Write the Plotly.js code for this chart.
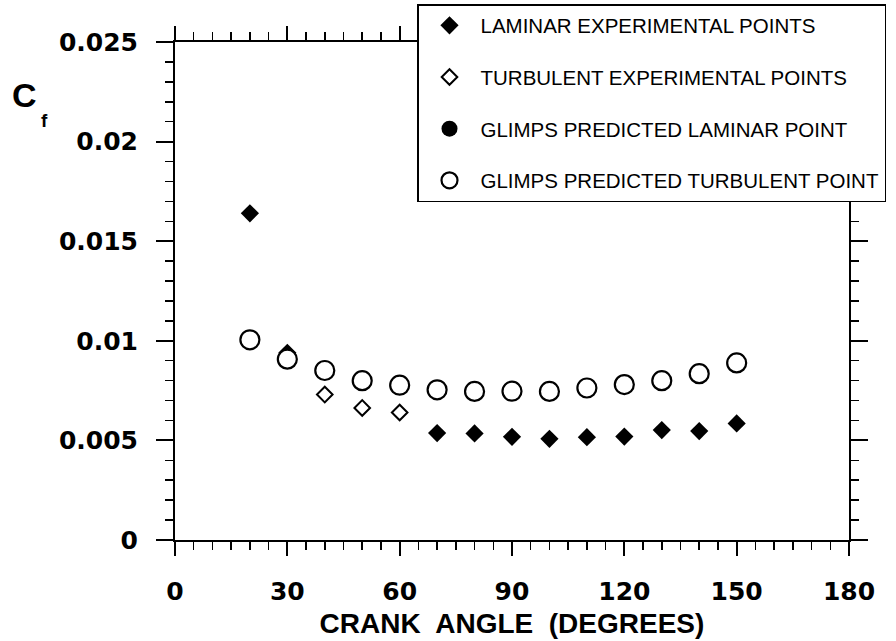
<!DOCTYPE html>
<html>
<head>
<meta charset="utf-8">
<script src="https://cdn.plot.ly/plotly-3.0.1.min.js"></script>
<style>html,body{margin:0;padding:0;background:#fff;}#chart{width:896px;height:641px;}</style>
</head>
<body>
<div id="chart"></div>
<script>
// Crank angle (degrees)
const lamExpAngle = [20, 30, 70, 80, 90, 100, 110, 120, 130, 140, 150];
const lamExpCf    = [0.0164, 0.0094, 0.00537, 0.00535, 0.00518, 0.00508, 0.00516, 0.00519, 0.00552, 0.00547, 0.00585];

const turbExpAngle = [40, 50, 60];
const turbExpCf    = [0.0073, 0.00663, 0.0064];

const glimpsLamAngle = [];
const glimpsLamCf    = [];

const glimpsTurbAngle = [20, 30, 40, 50, 60, 70, 80, 90, 100, 110, 120, 130, 140, 150];
const glimpsTurbCf    = [0.01005, 0.00908, 0.00851, 0.0080, 0.00777, 0.00754, 0.00746, 0.00747, 0.00746, 0.00763, 0.0078, 0.0080, 0.00835, 0.00889];

const seriesNames = [
  'LAMINAR EXPERIMENTAL POINTS',
  'TURBULENT EXPERIMENTAL POINTS',
  'GLIMPS PREDICTED LAMINAR POINT',
  'GLIMPS PREDICTED TURBULENT POINT'
];
const xTickVals = [0, 30, 60, 90, 120, 150, 180];
const yTickVals = [0, 0.005, 0.01, 0.015, 0.02, 0.025];
const yTickText = ['0', '0.005', '0.01', '0.015', '0.02', '0.025'];

const traces = [
  {x: lamExpAngle, y: lamExpCf, name: seriesNames[0], legendgroup: 'a', legendrank: 1,
   mode: 'markers', type: 'scatter',
   marker: {symbol: 'diamond', size: 14, color: '#000', line: {width: 0}}},
  {x: turbExpAngle, y: turbExpCf, name: seriesNames[1], legendgroup: 'b', legendrank: 2,
   mode: 'markers', type: 'scatter',
   marker: {symbol: 'diamond', size: 12, color: '#fff', line: {width: 2, color: '#000'}}},
  {x: glimpsTurbAngle, y: glimpsTurbCf, name: seriesNames[3], legendgroup: 'd', legendrank: 4,
   mode: 'markers', type: 'scatter',
   marker: {symbol: 'circle', size: 19, color: '#fff', line: {width: 2.2, color: '#000'}}},
  {x: glimpsLamAngle.length ? glimpsLamAngle : [null], y: glimpsLamCf.length ? glimpsLamCf : [null],
   name: seriesNames[2], legendgroup: 'c', legendrank: 3,
   mode: 'markers', type: 'scatter',
   marker: {symbol: 'circle', size: 16, color: '#000'}}
];

const tickFont = {family: 'DejaVu Sans, Arial, sans-serif', size: 25, color: '#000', weight: 'bold'};

// plot area spans page pixels 42..540 vertically
const pyTop = 42, pyH = 498;
const py = p => 1 - (p - pyTop) / pyH;

const layout = {
  width: 896, height: 641,
  margin: {l: 175, r: 47, t: 42, b: 101, autoexpand: false},
  paper_bgcolor: '#fff', plot_bgcolor: '#fff',
  showlegend: true,
  legend: {
    x: (417 - 175) / 674, y: py(4), xanchor: 'left', yanchor: 'top',
    bgcolor: '#fff', bordercolor: '#000', borderwidth: 1.5,
    font: {family: 'Liberation Sans, Arial, sans-serif', size: 20.5, color: '#000'},
    tracegroupgap: 22, traceorder: 'grouped', itemwidth: 52
  },
  xaxis: {
    range: [0, 180], tickvals: xTickVals, ticktext: xTickVals.map(String),
    ticks: 'outside', ticklen: 14, tickwidth: 2, tickcolor: '#000',
    minor: {dtick: 5, tick0: 0, ticks: 'outside', ticklen: 8, tickwidth: 1.5, tickcolor: '#000'},
    showline: true, linewidth: 2, linecolor: '#000', mirror: 'ticks',
    showgrid: false, zeroline: false, ticklabelstandoff: 14,
    tickfont: tickFont,
    title: {text: 'CRANK\u00a0 ANGLE\u00a0 (DEGREES)', standoff: 8,
            font: {family: 'Liberation Sans, Arial, sans-serif', size: 28, color: '#000', weight: 'bold'}}
  },
  yaxis: {
    range: [0, 0.025], tickvals: yTickVals, ticktext: yTickText,
    ticks: 'outside', ticklen: 17, tickwidth: 2, tickcolor: '#000',
    minor: {dtick: 0.001, tick0: 0, ticks: 'outside', ticklen: 8, tickwidth: 1.5, tickcolor: '#000'},
    showline: true, linewidth: 2, linecolor: '#000', mirror: 'ticks',
    showgrid: false, zeroline: false, ticklabelstandoff: 13,
    tickfont: tickFont
  },
  annotations: [{
    text: 'C', xref: 'paper', yref: 'paper',
    x: (10 - 175) / 674, y: py(74), xanchor: 'left', yanchor: 'top',
    showarrow: false,
    font: {family: 'Liberation Sans, Arial, sans-serif', size: 34, color: '#000', weight: 'bold'}
  }, {
    text: 'f', xref: 'paper', yref: 'paper',
    x: (39 - 175) / 674, y: py(108), xanchor: 'left', yanchor: 'top',
    showarrow: false,
    font: {family: 'Liberation Sans, Arial, sans-serif', size: 19, color: '#000', weight: 'bold'}
  }]
};

Plotly.newPlot('chart', traces, layout, {staticPlot: true, displayModeBar: false});
</script>
</body>
</html>
